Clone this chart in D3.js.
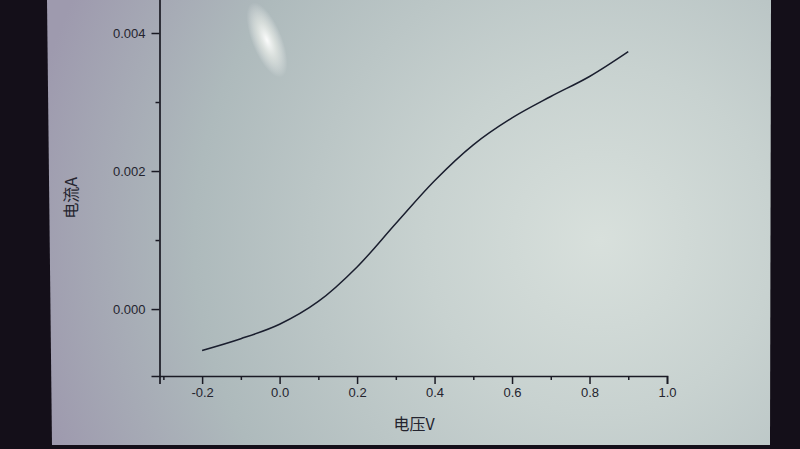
<!DOCTYPE html>
<html>
<head>
<meta charset="utf-8">
<script src="https://cdn.jsdelivr.net/npm/d3@7/dist/d3.min.js"></script>
<style>
html,body{margin:0;padding:0;background:#140f19;}
svg{display:block;}
</style>
</head>
<body>
<svg id="chart" width="800" height="449"></svg>
<script>
// ---- data ----
const voltage = [-0.2, -0.1, 0.0, 0.1, 0.2, 0.3, 0.4, 0.5, 0.6, 0.7, 0.8, 0.9];
const current = [-0.00060, -0.00043, -0.00022, 0.00011, 0.00061, 0.00124, 0.00186, 0.00238, 0.00277, 0.00308, 0.00337, 0.00373];
const xTickValues = [-0.2, 0.0, 0.2, 0.4, 0.6, 0.8, 1.0];
const xTickLabels = ["-0.2", "0.0", "0.2", "0.4", "0.6", "0.8", "1.0"];
const xMinorTicks = [-0.3, -0.1, 0.1, 0.3, 0.5, 0.7, 0.9];
const yTickValues = [0.000, 0.002, 0.004];
const yTickLabels = ["0.000", "0.002", "0.004"];
const yMinorTicks = [0.001, 0.003];
const xTitle = "电压V";
const yTitle = "电流A";

const svg = d3.select("#chart");
const W = 800, H = 449;

// ---- photographed screen background ----
const defs = svg.append("defs");
const rg = defs.append("radialGradient").attr("id","screenGrad")
  .attr("gradientUnits","userSpaceOnUse")
  .attr("cx",600).attr("cy",240).attr("r",580);
rg.append("stop").attr("offset","0").attr("stop-color","#d8e0dc");
rg.append("stop").attr("offset","0.3").attr("stop-color","#c8d2d0");
rg.append("stop").attr("offset","0.7").attr("stop-color","#aebabc");
rg.append("stop").attr("offset","1").attr("stop-color","#9e9aae");
const glare = defs.append("radialGradient").attr("id","glare");
glare.append("stop").attr("offset","0").attr("stop-color","#ffffff").attr("stop-opacity",0.95);
glare.append("stop").attr("offset","0.5").attr("stop-color","#f4f6f0").attr("stop-opacity",0.55);
glare.append("stop").attr("offset","1").attr("stop-color","#ffffff").attr("stop-opacity",0);

svg.append("rect").attr("x",0).attr("y",0).attr("width",W).attr("height",H).attr("fill","#140f19");
svg.append("path")
  .attr("d","M47,0 L771,0 L770,445 L52,445 Z")
  .attr("fill","url(#screenGrad)");
svg.append("ellipse")
  .attr("cx",267).attr("cy",40).attr("rx",15).attr("ry",40)
  .attr("transform","rotate(-22,267,40)")
  .attr("fill","url(#glare)");

// ---- scales ----
const x = d3.scaleLinear().domain([-0.31, 1.0]).range([159.5, 667]);
const y = d3.scaleLinear().domain([-0.00097, 0.0045]).range([376, -1.5]);

const ink = "#1a1a24";
const textInk = "#24242e";
const numFont = "'Liberation Sans', Arial, sans-serif";

// x axis
const xAxis = d3.axisBottom(x).tickValues(xTickValues)
  .tickFormat((d,i) => xTickLabels[i]).tickSizeOuter(0).tickSize(8).tickPadding(4);
const gx = svg.append("g").attr("transform",`translate(0,${y.range()[0]})`).call(xAxis);
gx.selectAll("text").attr("font-family",numFont).attr("font-size",13).attr("fill",textInk);
gx.select(".domain").attr("stroke",ink).attr("stroke-width",1.7);
gx.selectAll(".tick line").attr("stroke",ink).attr("stroke-width",1.5);
const xMinor = d3.axisBottom(x).tickValues(xMinorTicks).tickFormat("").tickSize(4).tickSizeOuter(0);
const gxm = svg.append("g").attr("transform",`translate(0,${y.range()[0]})`).call(xMinor);
gxm.select(".domain").remove();
gxm.selectAll(".tick line").attr("stroke",ink).attr("stroke-width",1.5);

// y axis
const yAxis = d3.axisLeft(y).tickValues(yTickValues)
  .tickFormat((d,i) => yTickLabels[i]).tickSizeOuter(0).tickSize(8).tickPadding(6);
const gy = svg.append("g").attr("transform",`translate(${x.range()[0]},0)`).call(yAxis);
gy.selectAll("text").attr("font-family",numFont).attr("font-size",13).attr("fill",textInk);
gy.select(".domain").attr("stroke",ink).attr("stroke-width",1.7);
gy.selectAll(".tick line").attr("stroke",ink).attr("stroke-width",1.5);
const yMinor = d3.axisLeft(y).tickValues(yMinorTicks).tickFormat("").tickSize(4).tickSizeOuter(0);
const gym = svg.append("g").attr("transform",`translate(${x.range()[0]},0)`).call(yMinor);
gym.select(".domain").remove();
gym.selectAll(".tick line").attr("stroke",ink).attr("stroke-width",1.5);

// axis titles
svg.append("text").attr("x",414).attr("y",430).attr("text-anchor","middle")
  .attr("font-family","'Noto Sans CJK SC', sans-serif").attr("font-size",16)
  .attr("fill",textInk).text(xTitle);
svg.append("text").attr("transform","translate(77,198) rotate(-90)").attr("text-anchor","middle")
  .attr("font-family","'Noto Sans CJK SC', sans-serif").attr("font-size",16)
  .attr("fill",textInk).text(yTitle);

// curve
const pts = voltage.map((v,i) => [v, current[i]]);
const line = d3.line().x(d => x(d[0])).y(d => y(d[1])).curve(d3.curveCatmullRom.alpha(0.5));
svg.append("path").datum(pts).attr("d",line)
  .attr("fill","none").attr("stroke","#1a1e2e").attr("stroke-width",1.5);
</script>
</body>
</html>
